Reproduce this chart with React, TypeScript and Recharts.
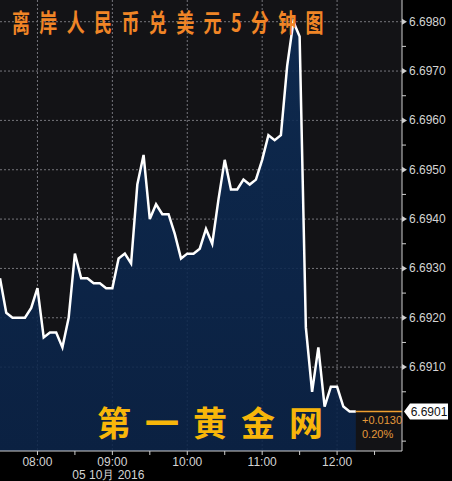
import React from "react";
import { ComposedChart, Area, XAxis, YAxis, CartesianGrid, ReferenceLine } from "recharts";

// 5-minute USD/CNH, 05 Oct 2016
const times = [
  "07:30", "07:35", "07:40", "07:45", "07:50", "07:55", "08:00", "08:05", "08:10", "08:15",
  "08:20", "08:25", "08:30", "08:35", "08:40", "08:45", "08:50", "08:55", "09:00", "09:05",
  "09:10", "09:15", "09:20", "09:25", "09:30", "09:35", "09:40", "09:45", "09:50", "09:55",
  "10:00", "10:05", "10:10", "10:15", "10:20", "10:25", "10:30", "10:35", "10:40", "10:45",
  "10:50", "10:55", "11:00", "11:05", "11:10", "11:15", "11:20", "11:25", "11:30", "11:35",
  "11:40", "11:45", "11:50", "11:55", "12:00", "12:05", "12:10", "12:15",
];
const prices = [
  6.6928, 6.6921, 6.692, 6.692, 6.692, 6.6922, 6.6926, 6.6916, 6.6917, 6.6917,
  6.6914, 6.692, 6.6933, 6.6928, 6.6928, 6.6927, 6.6927, 6.6926, 6.6926, 6.6932,
  6.6933, 6.6931, 6.6947, 6.6953, 6.694, 6.6943, 6.6941, 6.6941, 6.6937, 6.6932,
  6.6933, 6.6933, 6.6934, 6.6938, 6.6935, 6.6944, 6.6952, 6.6946, 6.6946, 6.6948,
  6.6947, 6.6948, 6.6952, 6.6957, 6.6956, 6.6957, 6.6971, 6.698, 6.6977, 6.6918,
  6.6905, 6.6914, 6.6902, 6.6906, 6.6906, 6.6902, 6.6901, 6.6901,
];
const hourTicks = ["08:00", "09:00", "10:00", "11:00", "12:00"];
const halfTicks = ["08:30", "09:30", "10:30", "11:30", "12:30"];
const priceTicks = [6.691, 6.692, 6.693, 6.694, 6.695, 6.696, 6.697, 6.698];
const minorPriceTicks = [6.6895, 6.6905, 6.6915, 6.6925, 6.6935, 6.6945, 6.6955, 6.6965, 6.6975];
const lastPrice = 6.6901;
const changeAbs = "+0.0130";
const changePct = "0.20%";
const dateLabel = "05 10月 2016";
const title = "离岸人民币兑美元5分钟图";
const watermark = "第一黄金网";

const toMin = (s: string) => {
  const [h, m] = s.split(":").map(Number);
  return h * 60 + m;
};
const fmt = (v: number) =>
  `${String(Math.floor(v / 60)).padStart(2, "0")}:${String(v % 60).padStart(2, "0")}`;

const data = times.map((t, i) => ({ t: toMin(t), v: prices[i] }));
const xStart = toMin(times[0]);
const xEnd = 772;
const xTicks = [...hourTicks, ...halfTicks].map(toMin).sort((a, b) => a - b);
const yTicks = [...priceTicks, ...minorPriceTicks, lastPrice].sort((a, b) => a - b);

const AXIS = "#cfcfcf";
const LABEL = "#d4d4d4";
const GRID = "#76767c";
const ORANGE = "#f0a030";
const FONT = "'Liberation Sans', Arial, sans-serif";

const YTick = (props: any) => {
  const { x, y, payload } = props;
  const v = payload.value;
  if (v === lastPrice) {
    return (
      <g>
        <path
          d={`M${x + 2},${y} L${x + 8},${y - 8} L${x + 46},${y - 8} L${x + 46},${y + 8} L${x + 8},${y + 8} Z`}
          fill="#ffffff"
        />
        <text x={x + 27} y={y + 4} textAnchor="middle" fill="#111" fontSize={12} fontFamily={FONT}>
          {v.toFixed(4)}
        </text>
      </g>
    );
  }
  if (priceTicks.includes(v)) {
    return (
      <g>
        <path d={`M${x},${y - 3} L${x + 5},${y} L${x},${y + 3} Z`} fill={AXIS} />
        <text x={x + 7} y={y + 4} fill={LABEL} fontSize={12} fontFamily={FONT}>
          {v.toFixed(4)}
        </text>
      </g>
    );
  }
  return <line x1={x} x2={x + 4} y1={y} y2={y} stroke={AXIS} />;
};

const XTick = (props: any) => {
  const { x, y, payload } = props;
  const v = payload.value;
  const isHour = v % 60 === 0;
  return (
    <g>
      <line x1={x} x2={x} y1={y} y2={y + 4} stroke={AXIS} />
      {isHour && (
        <text x={x} y={y + 15} textAnchor="middle" fill={LABEL} fontSize={12} fontFamily={FONT}>
          {fmt(v)}
        </text>
      )}
      {v === toMin("09:00") && (
        <text x={x - 4} y={y + 28} textAnchor="middle" fill={LABEL} fontSize={12} fontFamily={FONT}>
          {dateLabel}
        </text>
      )}
    </g>
  );
};

export default function App() {
  return (
    <div style={{ position: "absolute", left: 0, top: 0, width: 452, height: 481, background: "#000", overflow: "hidden" }}>
      <ComposedChart width={452} height={481} data={data} margin={{ top: 0, right: 0, bottom: 0, left: 0 }}>
        <defs>
          <linearGradient id="areaFill" x1="0" y1="0" x2="0" y2="1">
            <stop offset="0%" stopColor="#0d2c55" />
            <stop offset="100%" stopColor="#0a2348" />
          </linearGradient>
        </defs>
        <CartesianGrid
          horizontalValues={priceTicks}
          verticalValues={hourTicks.map(toMin)}
          stroke={GRID}
          strokeDasharray="2 2"
          fill="#131316"
        />
        <XAxis
          dataKey="t"
          type="number"
          domain={[xStart, xEnd]}
          allowDataOverflow
          ticks={xTicks}
          interval={0}
          height={30}
          tickSize={0}
          tickMargin={0}
          tickLine={false}
          axisLine={{ stroke: AXIS }}
          tick={<XTick />}
        />
        <YAxis
          orientation="right"
          type="number"
          domain={[6.6893, 6.69844]}
          allowDataOverflow
          ticks={yTicks}
          interval={0}
          width={50}
          tickSize={0}
          tickMargin={0}
          tickLine={false}
          axisLine={{ stroke: AXIS }}
          tick={<YTick />}
        />
        <Area
          type="linear"
          dataKey="v"
          stroke="#ffffff"
          strokeWidth={2.5}
          fill="url(#areaFill)"
          fillOpacity={0.88}
          dot={false}
          activeDot={false}
          isAnimationActive={false}
        />
        <ReferenceLine
          segment={[
            { x: data[data.length - 1].t, y: lastPrice },
            { x: xEnd, y: lastPrice },
          ]}
          stroke={ORANGE}
          strokeWidth={1.5}
        />
      </ComposedChart>
      <div
        style={{
          position: "absolute",
          left: 12,
          top: 9,
          fontFamily: "'Noto Sans CJK SC', sans-serif",
          fontWeight: 700,
          fontSize: 25,
          lineHeight: "25px",
          letterSpacing: 13,
          color: "#f08526",
          whiteSpace: "nowrap",
          transform: "scaleX(0.72)",
          transformOrigin: "left top",
        }}
      >
        {title}
      </div>
      <div
        style={{
          position: "absolute",
          left: 97,
          top: 405,
          fontFamily: "'Noto Sans CJK SC', sans-serif",
          fontWeight: 700,
          fontSize: 34,
          lineHeight: "34px",
          letterSpacing: 14,
          color: "#f8b60a",
          whiteSpace: "nowrap",
        }}
      >
        {watermark}
      </div>
      <div
        style={{
          position: "absolute",
          left: 362,
          top: 413,
          fontFamily: FONT,
          fontSize: 11,
          lineHeight: "14px",
          color: "#e59a3a",
        }}
      >
        <div>{changeAbs}</div>
        <div>{changePct}</div>
      </div>
    </div>
  );
}
